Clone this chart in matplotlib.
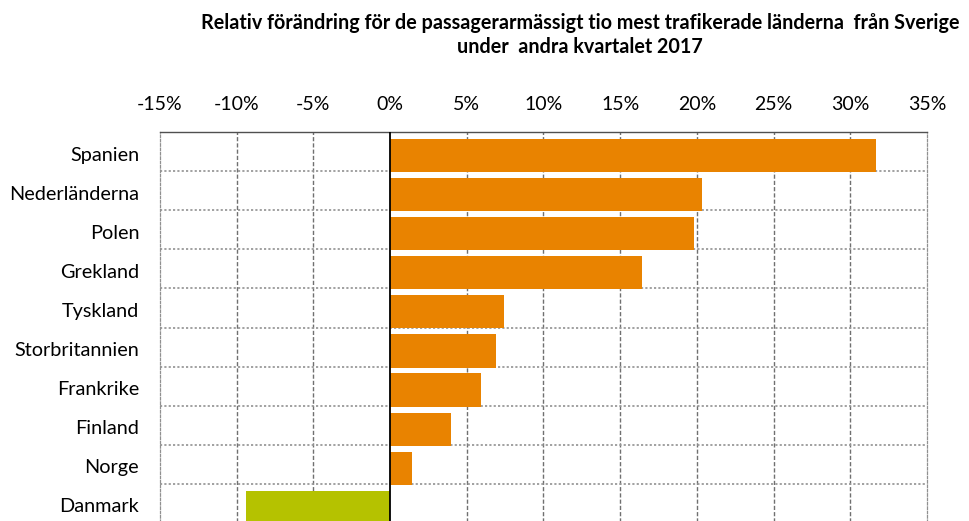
import matplotlib
matplotlib.use("Agg")
import matplotlib.pyplot as plt
from matplotlib.ticker import FuncFormatter

countries = ["Spanien", "Nederländerna", "Polen", "Grekland", "Tyskland",
             "Storbritannien", "Frankrike", "Finland", "Norge", "Danmark"]
values = [31.7, 20.3, 19.8, 16.4, 7.4, 6.9, 5.9, 4.0, 1.4, -9.4]
colors = ["#E98300"] * 9 + ["#B5C200"]
xticks = [-15, -10, -5, 0, 5, 10, 15, 20, 25, 30, 35]
title = ("Relativ förändring för de passagerarmässigt tio mest trafikerade länderna  från Sverige\n"
         "under  andra kvartalet 2017")

plt.rcParams['font.family'] = ['Lato', 'DejaVu Sans']

W, H = 970, 521
fig = plt.figure(figsize=(W / 100, H / 100), dpi=100)
left, right, top, bottom = 160, 927, 132, 523
ax = fig.add_axes([left / W, 1 - bottom / H, (right - left) / W, (bottom - top) / H])

ypos = list(range(len(countries)))
ax.barh(ypos, values, height=0.85, color=colors, zorder=3)

ax.set_xlim(-15, 35)
ax.set_ylim(len(countries) - 0.6, -0.6)

for x in xticks:
    if x == 0:
        ax.axvline(0, color="black", lw=1.3, zorder=4)
    elif x in (-15, 35):
        continue
    else:
        ax.axvline(x, color="#707070", lw=1.0, ls=(0, (3, 1.5)), zorder=1)
for i in range(1, len(countries)):
    ax.axhline(i - 0.6, color="#9a9a9a", lw=1.3, ls=(0, (1.2, 1.2)), zorder=1)

for s in ["left", "right"]:
    ax.spines[s].set_color("#909090")
    ax.spines[s].set_linestyle((0, (2, 1.5)))
    ax.spines[s].set_linewidth(0.9)
ax.spines["top"].set_color("#505050")
ax.spines["top"].set_linewidth(1.0)
ax.spines["bottom"].set_visible(False)

ax.xaxis.tick_top()
ax.set_xticks(xticks)
ax.xaxis.set_major_formatter(FuncFormatter(lambda v, p: f"{int(v)}%"))
ax.tick_params(axis="x", length=0, pad=14, labelsize=14, colors="black")
ax.set_yticks([y - 0.05 for y in ypos])
ax.set_yticklabels(countries)
ax.tick_params(axis="y", length=0, pad=15, labelsize=14.3)

fig.text(580 / W, 1 - 35 / H, title, ha="center", va="center",
         fontsize=14.2, fontweight="bold", linespacing=1.3)

fig.savefig("out.png", dpi=100)
